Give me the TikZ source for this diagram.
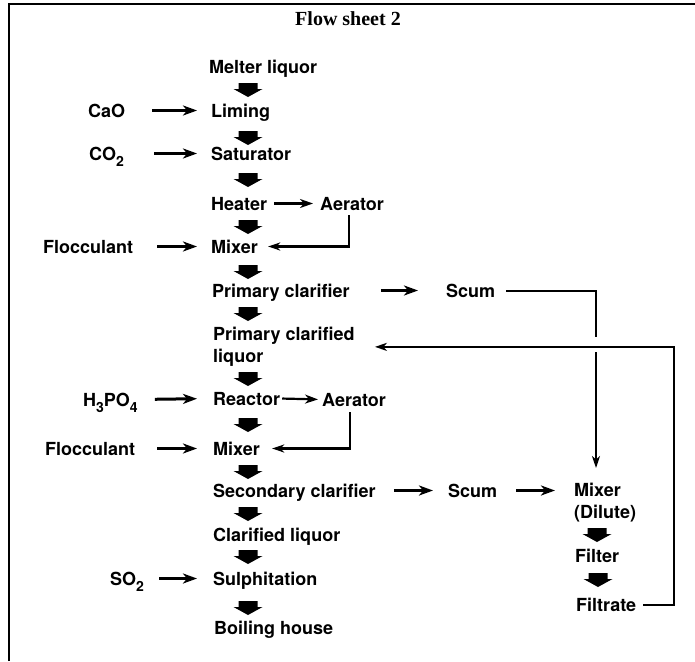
\documentclass[tikz,border=0pt]{standalone}
\usepackage{fontspec}
\setmainfont{TeX Gyre Heros}
\newfontfamily\titlefont{Liberation Serif}
\usetikzlibrary{arrows.meta}
\newcommand\lowsub[1]{\raisebox{-6pt}{\fontsize{14}{14}\selectfont #1}}
\begin{document}
\begin{tikzpicture}[x=1pt,y=-1pt,
  lbl/.style={anchor=base west, inner sep=0pt, font=\fontsize{18}{22}\selectfont\bfseries, text height=13pt, text depth=0pt},
  lblml/.style={anchor=north west, inner sep=0pt, font=\fontsize{18}{22}\selectfont\bfseries, align=left},
  feed/.style={line width=3pt, -{Stealth[length=14pt,width=10pt,inset=4pt]}},
  link/.style={line width=2.2pt, -{Stealth[length=13pt,width=9pt,inset=4pt]}},
  ret/.style={line width=2.2pt, -{Stealth[length=12pt,width=8pt,inset=3.5pt]}},
  thinl/.style={line width=2pt},
  blk/.pic={\fill (-9.5,0) -- (9.5,0) -- (9.5,6) -- (14.5,6) -- (0,14) -- (-14.5,6) -- (-9.5,6) -- cycle;}
]
\useasboundingbox (0,0) rectangle (695,661);
% frame
\draw[line width=2.5pt] (9,661) -- (9,4) -- (695,4);
% title
\node[anchor=base, inner sep=0pt, font=\titlefont\bfseries\fontsize{20}{24}\selectfont] (title) at (348,26) {Flow sheet 2};

% main column
\node[lbl] (melter) at (209,73) {Melter liquor};
\node[lbl] (liming) at (211,117) {Liming};
\node[lbl] (saturator) at (211,160) {Saturator};
\node[lbl] (heater) at (211,210) {Heater};
\node[lbl] (mixer1) at (211,253) {Mixer};
\node[lbl] (pclar) at (212,297) {Primary clarifier};
\node[lblml] (pcl) at (213,327) {Primary clarified\\liquor};
\node[lbl] (reactor) at (213,405) {Reactor};
\node[lbl] (mixer2) at (213,455) {Mixer};
\node[lbl] (sclar) at (213,497) {Secondary clarifier};
\node[lbl] (clarliq) at (213,541) {Clarified liquor};
\node[lbl] (sulph) at (213,585) {Sulphitation};
\node[lbl] (boiling) at (214,634) {Boiling house};

% left column
\node[lbl] (cao) at (88,117) {CaO};
\node[lbl] (co2) at (89,160) {CO\lowsub{2}};
\node[lbl] (floc1) at (43,253) {Flocculant};
\node[lbl] (h3po4) at (83,406) {H\lowsub{3}PO\lowsub{4}};
\node[lbl] (floc2) at (45,455) {Flocculant};
\node[lbl] (so2) at (110,585) {SO\lowsub{2}};

% right column
\node[lbl] (aerator1) at (320,210) {Aerator};
\node[lbl] (scum1) at (446,297) {Scum};
\node[lbl] (aerator2) at (322,406) {Aerator};
\node[lbl] (scum2) at (448,497) {Scum};
\node[lblml] (mixerD) at (574,483) {Mixer\\(Dilute)};
\node[lbl] (filter) at (575,562) {Filter};
\node[lbl] (filtrate) at (576,611) {Filtrate};

% block arrows
\foreach \yy in {83,131,173,220,265,307,372,418,465,507,550,601}
  \pic at (248,\yy) {blk};
\pic at (597,528) {blk};
\pic at (598,573) {blk};

% feed arrows
\draw[feed, shorten <=27pt, shorten >=14pt] (cao.east) -- (liming.west);
\draw[feed, shorten <=30pt, shorten >=14pt] (co2.east) -- (saturator.west);
\draw[feed, shorten <=24pt, shorten >=14pt] (floc1.east) -- (mixer1.west);
\draw[feed, shorten <=17pt, shorten >=16pt] (h3po4.east) -- (reactor.west);
\draw[feed, shorten <=22pt, shorten >=16pt] (floc2.east) -- (mixer2.west);
\draw[feed, shorten <=15pt, shorten >=16pt] (so2.east) -- (sulph.west);

% side links
\draw[link, shorten <=7pt, shorten >=7pt] (heater.east) -- (aerator1.west);
\draw[link, shorten <=2pt, shorten >=4pt] (reactor.east) -- (aerator2.west);
\draw[feed, shorten <=31pt, shorten >=28pt] (pclar.east) -- (scum1.west);
\draw[feed, shorten <=18pt, shorten >=15pt] (sclar.east) -- (scum2.west);
\draw[feed, shorten <=19pt, shorten >=19pt] (scum2.east) -- (scum2.east -| mixerD.west);

% aerator returns
\draw[ret, shorten <=5pt, shorten >=10pt] ([xshift=-3pt]aerator1.south) |- (mixer1.east);
\draw[ret, shorten <=6pt, shorten >=12pt] ([xshift=-4pt]aerator2.south) |- (mixer2.east);

% scum line to dilute mixer (broken where it crosses the return line)
\coordinate (gapTop) at (596,337);
\coordinate (gapBot) at (596,352);
\draw[thinl, shorten <=11pt] (scum1.east) -| (gapTop);
\draw[thinl, -{Stealth[length=12pt,width=8pt,inset=3.5pt]}, shorten >=15pt] (gapBot) -- (gapBot |- mixerD.north);

% filtrate return
\coordinate (rx) at (674,0);
\draw[thinl, -{Stealth[length=12pt,width=8pt,inset=3.5pt]}, shorten <=7pt, shorten >=20pt] (filtrate.east) -| (rx |- pcl.east) -- (pcl.east);
\end{tikzpicture}
\end{document}
